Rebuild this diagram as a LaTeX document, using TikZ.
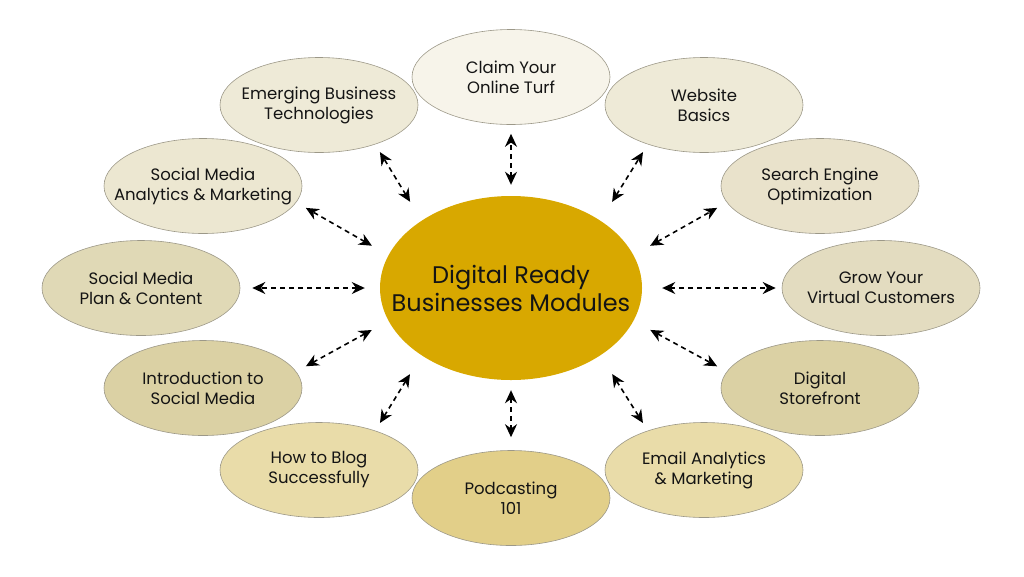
\documentclass[tikz,border=0pt]{standalone}
\usepackage{fontspec}
\setmainfont{Poppins}
\usepackage{tikz}
\usepackage{xcolor}
\usetikzlibrary{arrows.meta, shapes.geometric}
\definecolor{cHub}     {HTML}{D8A800}
\definecolor{cEdge}    {HTML}{9C9888}
\definecolor{cInk}     {HTML}{141414}
\definecolor{cClaim}   {HTML}{F7F4EA}
\definecolor{cWeb}     {HTML}{EEEAD7}
\definecolor{cSeo}     {HTML}{E9E2CB}
\definecolor{cGrow}    {HTML}{E3DCC0}
\definecolor{cStore}   {HTML}{DBD1A4}
\definecolor{cEmail}   {HTML}{E9DCA9}
\definecolor{cPod}     {HTML}{E2CF89}
\definecolor{cPlan}    {HTML}{E0D9B6}
\definecolor{cSocial}  {HTML}{ECE7D1}

\begin{document}
\begin{tikzpicture}[x=1pt, y=-1pt,
    module/.style={ellipse, draw=cEdge, line width=0.6pt,
      inner xsep=-80pt, inner ysep=-30pt,
      minimum width=198pt, minimum height=95pt, align=center, text=cInk,
      font=\fontsize{16.5}{20}\selectfont},
    link/.style={dash pattern=on 5pt off 4pt, line width=1.6pt,
      {Stealth[length=13pt,width=12pt]}-{Stealth[length=13pt,width=12pt]}}]
  \useasboundingbox (0,0) rectangle (1024,576);
  % Centre ellipse
  \node[ellipse, fill=cHub, inner xsep=-100pt, inner ysep=-40pt,
        minimum width=262pt, minimum height=184pt,
        align=center, text=cInk, font=\fontsize{24}{28}\selectfont] (hub) at (511,288)
       {Digital Ready\\Businesses Modules};
  % Modules round it
  \node[module, fill=cClaim]  (claim)     at (511,77)  {Claim Your\\Online Turf};
  \node[module, fill=cWeb]    (web)       at (704,105) {Website\\Basics};
  \node[module, fill=cSeo]    (seo)       at (820,186) {Search Engine\\Optimization};
  \node[module, fill=cGrow]   (grow)      at (881,288) {Grow Your\\Virtual Customers};
  \node[module, fill=cStore]  (store)     at (820,388) {Digital\\Storefront};
  \node[module, fill=cEmail]  (email)     at (704,470) {Email Analytics\\\& Marketing};
  \node[module, fill=cPod]    (podcast)   at (511,498) {Podcasting\\101};
  \node[module, fill=cEmail]  (blog)      at (319,470) {How to Blog\\Successfully};
  \node[module, fill=cStore]  (intro)     at (203,388) {Introduction to\\Social Media};
  \node[module, fill=cPlan]   (plan)      at (141,288) {Social Media\\Plan \& Content};
  \node[module, fill=cSocial] (analytics) at (203,186) {Social Media\\Analytics \& Marketing};
  \node[module, fill=cWeb]    (emerging)  at (319,105) {Emerging Business\\Technologies};
  % Dashed two-way links
  \draw[link, shorten <=11pt, shorten >=9pt]  (hub.north) -- (claim.south);
  \draw[link, shorten <=22pt, shorten >=9pt]  (hub.37)  -- (web.215);
  \draw[link, shorten <=19pt, shorten >=11pt] (hub.15)  -- (seo.190);
  \draw[link, shorten <=20pt, shorten >=6pt]  (hub.east) -- (grow.west);
  \draw[link, shorten <=19pt, shorten >=11pt] (hub.345) -- (store.170);
  \draw[link, shorten <=22pt, shorten >=9pt]  (hub.323) -- (email.145);
  \draw[link, shorten <=10pt, shorten >=13pt] (hub.south) -- (podcast.north);
  \draw[link, shorten <=22pt, shorten >=9pt]  (hub.217) -- (blog.35);
  \draw[link, shorten <=19pt, shorten >=11pt] (hub.195) -- (intro.10);
  \draw[link, shorten <=15pt, shorten >=12pt] (hub.west) -- (plan.east);
  \draw[link, shorten <=19pt, shorten >=11pt] (hub.165) -- (analytics.350);
  \draw[link, shorten <=22pt, shorten >=9pt]  (hub.143) -- (emerging.325);
\end{tikzpicture}
\end{document}
